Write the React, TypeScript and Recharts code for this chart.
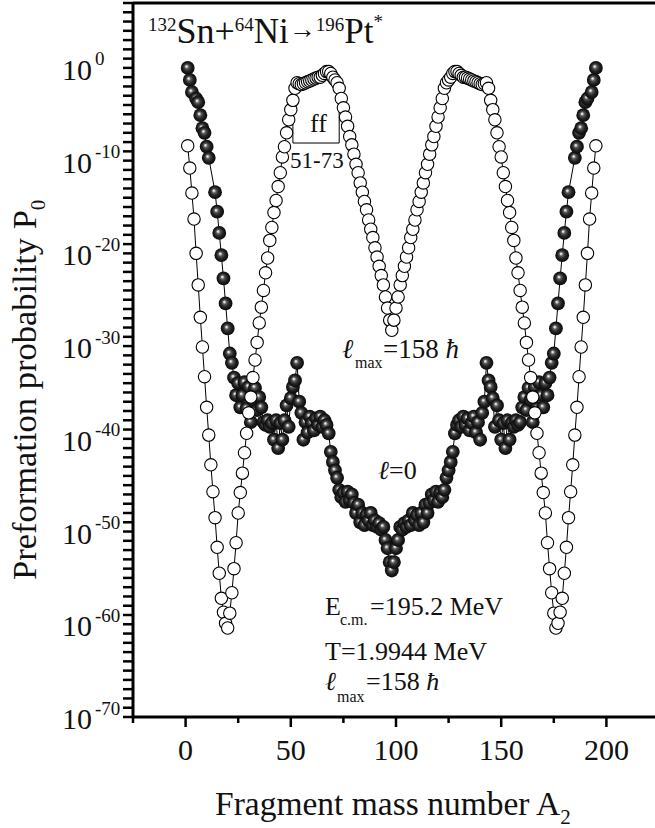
import React from 'react';
import { LineChart, Line, XAxis, YAxis, ReferenceLine } from 'recharts';

// Fragment mass number A2 (categories)
const massNumbers: number[] = Array.from({ length: 195 }, (_, i) => i + 1);

// log10 of preformation probability P0 for l = 0 (filled spheres); null = no point
const logP_l0: (number | null)[] = [
  0.0, -1.3, -2.6, null, -3.3, -3.7, -5.1, -6.5, -7.0, -8.5,
  -9.7, null, null, -13.4, -15.5, -17.8, -20.2, -22.7, -25.4, -28.1,
  -30.8, -31.8, -33.4, -35.3, -34.0, -36.6, -35.3, -33.9, -36.7, -34.4,
  -38.2, -35.8, -34.5, -36.9, -35.5, -36.6, -38.2, -38.5, -38.0, -38.7,
  -38.3, -40.1, -38.0, -41.0, -38.3, -40.1, -38.0, -36.4, -38.7, -35.6,
  -34.4, -33.7, -31.8, -36.0, -37.2, -40.1, -38.2, -39.3, -37.6, -38.3,
  -39.1, -37.8, -38.5, -37.6, -38.7, -38.0, -38.5, -39.4, -41.4, -42.5,
  -43.4, -44.2, -45.5, -46.3, -45.8, -46.8, -45.7, -46.6, -46.0, -46.9,
  -48.0, -47.1, -49.0, -48.0, -49.3, -48.2, -48.8, -48.0, -49.3, -48.8,
  -49.5, -49.1, -49.8, -49.5, -50.9, -51.8, -53.3, -54.2, -53.3, -51.8,
  -50.9, -49.5, -49.8, -49.1, -49.5, -48.8, -49.3, -48.0, -48.8, -48.2,
  -49.3, -48.0, -49.0, -47.1, -48.0, -46.9, -46.0, -46.6, -45.7, -46.8,
  -45.8, -46.3, -45.5, -44.2, -43.4, -42.5, -41.4, -39.4, -38.5, -38.0,
  -38.7, -37.6, -38.5, -37.8, -39.1, -38.3, -37.6, -39.3, -38.2, -40.1,
  -37.2, -36.0, -31.8, -33.7, -34.4, -35.6, -38.7, -36.4, -38.0, -40.1,
  -38.3, -41.0, -38.0, -40.1, -38.3, -38.7, -38.0, -38.5, -38.2, -36.6,
  -35.5, -36.9, -34.5, -35.8, -38.2, -34.4, -36.7, -33.9, -35.3, -36.6,
  -34.0, -35.3, -33.4, -31.8, -30.8, -28.1, -25.4, -22.7, -20.2, -17.8,
  -15.5, -13.4, null, null, -9.7, -8.5, -7.0, -6.5, -5.1, -3.7,
  -3.3, null, -2.6, -1.3, 0.0,
];

// log10 of P0 for l = lmax = 158 hbar (open circles)
const logP_lmax: number[] = [
  -8.4, -10.8, -13.5, -16.3, -20.0, -23.4, -26.9, -30.1, -33.3, -36.6,
  -39.6, -42.8, -45.7, -48.5, -51.7, -54.5, -57.2, -58.7, -59.9, -60.4,
  -58.8, -56.6, -54.0, -51.2, -48.0, -45.8, -43.7, -41.5, -39.4, -37.2,
  -35.5, -33.4, -31.5, -29.6, -27.5, -25.8, -24.0, -22.1, -20.5, -18.6,
  -17.2, -15.6, -14.3, -12.8, -11.3, -9.6, -8.5, -7.0, -5.6, -4.5,
  -3.5, -2.2, -1.6, -1.7, -1.8, -1.7, -1.6, -1.5, -1.4, -1.3,
  -1.2, -1.1, -1.0, -1.0, -0.8, -0.6, -0.4, -0.4, -0.6, -1.0,
  -1.3, -1.6, -2.2, -3.3, -4.3, -5.3, -6.3, -7.4, -8.3, -9.3,
  -10.4, -11.3, -12.4, -13.4, -14.4, -15.3, -16.4, -17.4, -18.3, -19.4,
  -20.4, -21.4, -22.4, -23.4, -24.7, -25.9, -27.2, -28.3, -27.2, -25.9,
  -24.7, -23.4, -22.4, -21.4, -20.4, -19.4, -18.3, -17.4, -16.4, -15.3,
  -14.4, -13.4, -12.4, -11.3, -10.4, -9.3, -8.3, -7.4, -6.3, -5.3,
  -4.3, -3.3, -2.2, -1.6, -1.3, -1.0, -0.6, -0.4, -0.4, -0.6,
  -0.8, -1.0, -1.0, -1.1, -1.2, -1.3, -1.4, -1.5, -1.6, -1.7,
  -1.8, -1.7, -1.6, -2.2, -3.5, -4.5, -5.6, -7.0, -8.5, -9.6,
  -11.3, -12.8, -14.3, -15.6, -17.2, -18.6, -20.5, -22.1, -24.0, -25.8,
  -27.5, -29.6, -31.5, -33.4, -35.5, -37.2, -39.4, -41.5, -43.7, -45.8,
  -48.0, -51.2, -54.0, -56.6, -58.8, -60.4, -59.9, -58.7, -57.2, -54.5,
  -51.7, -48.5, -45.7, -42.8, -39.6, -36.6, -33.3, -30.1, -26.9, -23.4,
  -20.0, -16.3, -13.5, -10.8, -8.4,
];

const xTicks: number[] = [-25, 0, 25, 50, 75, 100, 125, 150, 175, 200, 225];
const yTickExponents: number[] = Array.from({ length: 78 }, (_, i) => -70 + i);

// "ff" bracket: fragment range 51-73
const ffRange = { from: 51, to: 73, leftTop: -4.0, rightTop: -2.2, bottom: -8.1 };

const rows = massNumbers.map((a, i) => ({
  A: a,
  f: logP_l0[i] == null ? null : Math.pow(10, logP_l0[i] as number),
  o: Math.pow(10, logP_lmax[i]),
}));

const FONT = "'Liberation Serif', 'Times New Roman', serif";

const XTick = (props: any) => {
  const { x, y, payload } = props;
  const v = payload.value;
  const major = v % 50 === 0;
  return (
    <g>
      <line x1={x} x2={x} y1={y} y2={y + (major ? 10 : 6)} stroke="#000" strokeWidth={2.5} />
      {major && (
        <text x={x} y={y + 43} textAnchor="middle" fontSize={30} fontFamily={FONT} fill="#111">
          {v}
        </text>
      )}
    </g>
  );
};

const YTick = (props: any) => {
  const { x, y, payload } = props;
  const k = Math.round(Math.log10(payload.value));
  return (
    <g>
      <line x1={x - 10} x2={x} y1={y} y2={y} stroke="#000" strokeWidth={2.5} />
      {k % 10 === 0 && (
        <text x={x - 71} y={y + 12} fontSize={30} fontFamily={FONT} fill="#111">
          10
          <tspan dx={3} dy={-14.5} fontSize={19}>{`${k}`}</tspan>
        </text>
      )}
    </g>
  );
};

const SphereDot = (props: any) => {
  const { cx, cy, index } = props;
  if (cx == null || cy == null || Number.isNaN(cy)) return <g key={`s${index}`} />;
  return <circle key={`s${index}`} cx={cx} cy={cy} r={6.9} fill="url(#sphereGrad)" />;
};

const OpenDot = (props: any) => {
  const { cx, cy, index } = props;
  if (cx == null || cy == null || Number.isNaN(cy)) return <g key={`o${index}`} />;
  return <circle key={`o${index}`} cx={cx} cy={cy} r={6.2} fill="#fff" stroke="#000" strokeWidth={1.1} />;
};

export default function App() {
  return (
    <div style={{ position: 'absolute', left: 0, top: 0, width: 655, height: 828, overflow: 'hidden', background: '#fff' }}>
      <svg width={0} height={0} style={{ position: 'absolute' }}>
        <defs>
          <radialGradient id="sphereGrad" cx="0.5" cy="0.5" r="0.5" fx="0.4" fy="0.38">
            <stop offset="0" stopColor="#ffffff" />
            <stop offset="0.12" stopColor="#cfcfcf" />
            <stop offset="0.3" stopColor="#5a5a5a" />
            <stop offset="0.6" stopColor="#252525" />
            <stop offset="1" stopColor="#080808" />
          </radialGradient>
        </defs>
      </svg>
      <LineChart width={680} height={828} data={rows} margin={{ top: 3, right: 21, bottom: 0, left: 8 }}>
        <XAxis
          dataKey="A"
          type="number"
          domain={[-25, 225]}
          ticks={xTicks}
          allowDataOverflow
          interval={0}
          height={111}
          tickSize={0}
          tickMargin={0}
          tickLine={false}
          axisLine={{ stroke: '#000', strokeWidth: 3 }}
          tick={<XTick />}
        />
        <YAxis
          type="number"
          scale="log"
          domain={[1e-70, 1e7]}
          ticks={yTickExponents.map((k) => Math.pow(10, k))}
          allowDataOverflow
          interval={0}
          width={125}
          tickSize={0}
          tickMargin={0}
          tickLine={false}
          axisLine={{ stroke: '#000', strokeWidth: 3 }}
          tick={<YTick />}
        />
        <ReferenceLine y={1e7} stroke="#000" strokeWidth={3} />
        <ReferenceLine
          segment={[{ x: ffRange.from, y: Math.pow(10, ffRange.leftTop) }, { x: ffRange.from, y: Math.pow(10, ffRange.bottom) }]}
          stroke="#000"
          strokeWidth={1}
        />
        <ReferenceLine
          segment={[{ x: ffRange.from, y: Math.pow(10, ffRange.bottom) }, { x: ffRange.to, y: Math.pow(10, ffRange.bottom) }]}
          stroke="#000"
          strokeWidth={1}
        />
        <ReferenceLine
          segment={[{ x: ffRange.to, y: Math.pow(10, ffRange.rightTop) }, { x: ffRange.to, y: Math.pow(10, ffRange.bottom) }]}
          stroke="#000"
          strokeWidth={1}
        />
        <Line dataKey="f" stroke="#000" strokeWidth={1} dot={SphereDot} activeDot={false} connectNulls isAnimationActive={false} />
        <Line dataKey="o" stroke="#000" strokeWidth={1} dot={OpenDot} activeDot={false} isAnimationActive={false} />
      </LineChart>
      <svg width={655} height={828} style={{ position: 'absolute', left: 0, top: 0, pointerEvents: 'none' }} fontFamily={FONT} fill="#111">
        {/* reaction title (flowing text, super/subscripts by dy) */}
        <text x={148} y={31} fontSize={19}>
          132
          <tspan dy={12} fontSize={36}>Sn+</tspan>
          <tspan dy={-12} fontSize={19}>64</tspan>
          <tspan dy={12} fontSize={35}>Ni</tspan>
          <tspan dy={-5} fontSize={27}>→</tspan>
          <tspan dy={-7} fontSize={19}>196</tspan>
          <tspan dy={12} fontSize={35}>Pt</tspan>
          <tspan dy={-15} fontSize={19}>*</tspan>
        </text>
        {/* ff bracket labels */}
        <text x={310} y={132} fontSize={26}>ff</text>
        <text x={290} y={168} fontSize={23}>51-73</text>
        {/* lmax label */}
        <text>
          <tspan x={342} y={358} fontSize={27} fontStyle="italic">ℓ</tspan>
          <tspan x={355} y={368} fontSize={16}>max</tspan>
          <tspan x={383} y={358} fontSize={27}>=158 </tspan>
          <tspan fontSize={27} fontStyle="italic">ħ</tspan>
        </text>
        {/* l = 0 label */}
        <text>
          <tspan x={378} y={479} fontSize={26} fontStyle="italic">ℓ</tspan>
          <tspan x={389} y={479} fontSize={26}>=0</tspan>
        </text>
        {/* parameters */}
        <text>
          <tspan x={325} y={615} fontSize={26}>E</tspan>
          <tspan x={340} y={625} fontSize={16}>c.m.</tspan>
          <tspan x={370} y={615} fontSize={26}>=195.2 MeV</tspan>
        </text>
        <text x={325} y={660} fontSize={26}>T=1.9944 MeV</text>
        <text>
          <tspan x={325} y={690} fontSize={26} fontStyle="italic">ℓ</tspan>
          <tspan x={337} y={702} fontSize={16}>max</tspan>
          <tspan x={366} y={690} fontSize={26}>=158 </tspan>
          <tspan fontSize={26} fontStyle="italic">ħ</tspan>
        </text>
        {/* axis titles */}
        <text x={215} y={815} fontSize={33.5}>
          Fragment mass number A<tspan dy={9} fontSize={21}>2</tspan>
        </text>
        <text x={36} y={580} fontSize={34.5} transform="rotate(-90 36 580)">
          Preformation probability P<tspan dy={9} fontSize={21}>0</tspan>
        </text>
      </svg>
    </div>
  );
}
